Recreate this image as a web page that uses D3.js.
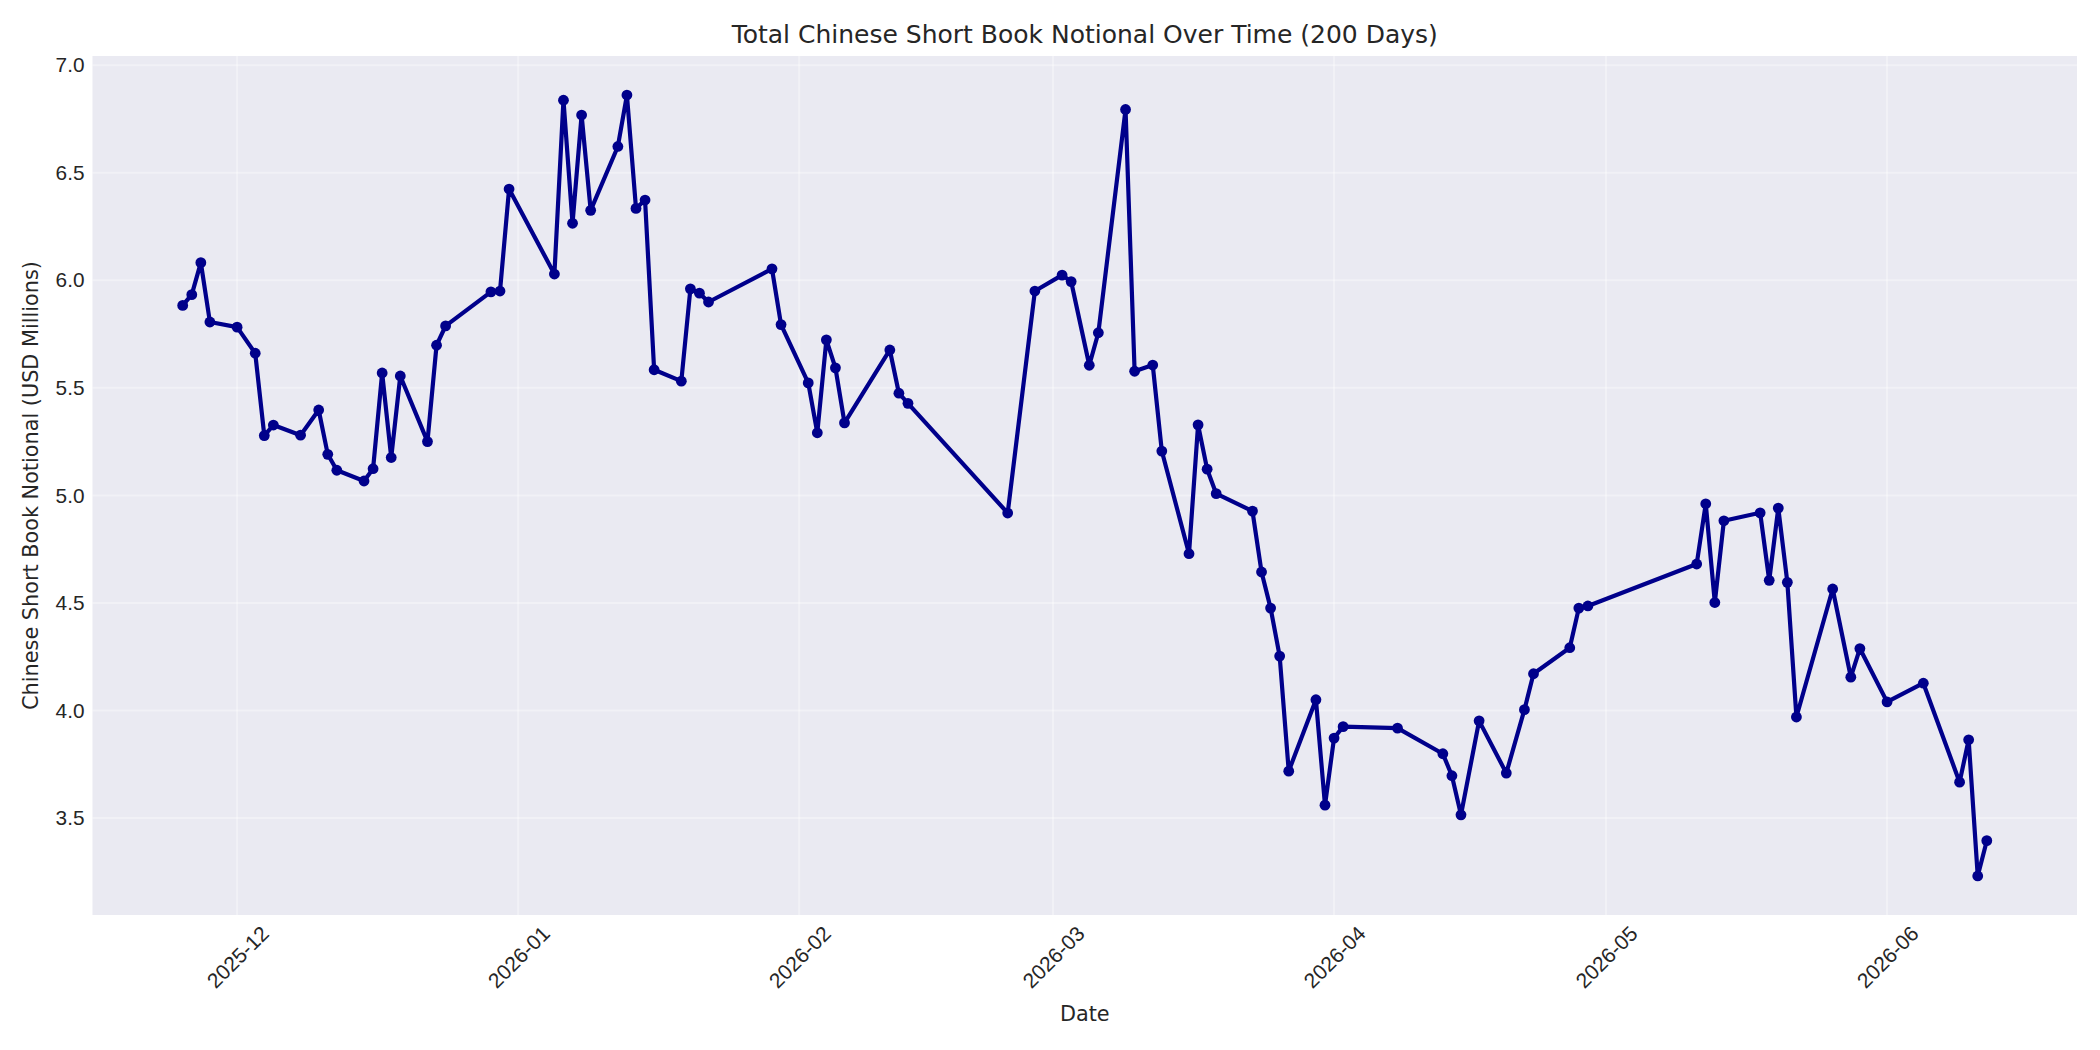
<!DOCTYPE html>
<html>
<head>
<meta charset="utf-8">
<script src="https://cdn.jsdelivr.net/npm/d3@7"></script>
<style>
  body { margin: 0; background: #ffffff; }
  svg { display: block; font-family: "DejaVu Sans", sans-serif; }
</style>
</head>
<body>
<svg id="notional_svg"></svg>
<script>
// Trading dates of the series (business days, some missing)
const dates = [
  "2025-11-25", "2025-11-26", "2025-11-27", "2025-11-28", "2025-12-01",
  "2025-12-03", "2025-12-04", "2025-12-05", "2025-12-08", "2025-12-10",
  "2025-12-11", "2025-12-12", "2025-12-15", "2025-12-16", "2025-12-17",
  "2025-12-18", "2025-12-19", "2025-12-22", "2025-12-23", "2025-12-24",
  "2025-12-29", "2025-12-30", "2025-12-31", "2026-01-05", "2026-01-06",
  "2026-01-07", "2026-01-08", "2026-01-09", "2026-01-12", "2026-01-13",
  "2026-01-14", "2026-01-15", "2026-01-16", "2026-01-19", "2026-01-20",
  "2026-01-21", "2026-01-22", "2026-01-29", "2026-01-30", "2026-02-02",
  "2026-02-03", "2026-02-04", "2026-02-05", "2026-02-06", "2026-02-11",
  "2026-02-12", "2026-02-13", "2026-02-24", "2026-02-27", "2026-03-02",
  "2026-03-03", "2026-03-05", "2026-03-06", "2026-03-09", "2026-03-10",
  "2026-03-12", "2026-03-13", "2026-03-16", "2026-03-17", "2026-03-18",
  "2026-03-19", "2026-03-23", "2026-03-24", "2026-03-25", "2026-03-26",
  "2026-03-27", "2026-03-30", "2026-03-31", "2026-04-01", "2026-04-02",
  "2026-04-08", "2026-04-13", "2026-04-14", "2026-04-15", "2026-04-17",
  "2026-04-20", "2026-04-22", "2026-04-23", "2026-04-27", "2026-04-28",
  "2026-04-29", "2026-05-11", "2026-05-12", "2026-05-13", "2026-05-14",
  "2026-05-18", "2026-05-19", "2026-05-20", "2026-05-21", "2026-05-22",
  "2026-05-26", "2026-05-28", "2026-05-29", "2026-06-01", "2026-06-05",
  "2026-06-09", "2026-06-10", "2026-06-11", "2026-06-12",
];

// Short book notional in USD millions, one value per date
const notional = [
  5.883, 5.933, 6.082, 5.806, 5.782,
  5.661, 5.278, 5.327, 5.280, 5.397,
  5.191, 5.117, 5.067, 5.124, 5.569,
  5.176, 5.555, 5.250, 5.698, 5.788,
  5.946, 5.950, 6.424, 6.029, 6.837,
  6.265, 6.768, 6.325, 6.622, 6.861,
  6.334, 6.373, 5.584, 5.531, 5.960,
  5.940, 5.899, 6.053, 5.794, 5.523,
  5.291, 5.723, 5.593, 5.337, 5.676,
  5.475, 5.428, 4.918, 5.950, 6.024,
  5.994, 5.605, 5.756, 6.794, 5.577,
  5.606, 5.206, 4.729, 5.328, 5.122,
  5.008, 4.927, 4.644, 4.476, 4.253,
  3.718, 4.050, 3.560, 3.872, 3.925,
  3.918, 3.799, 3.697, 3.515, 3.952,
  3.709, 4.004, 4.171, 4.292, 4.476,
  4.486, 4.681, 4.961, 4.502, 4.882,
  4.919, 4.605, 4.941, 4.596, 3.970,
  4.565, 4.155, 4.288, 4.040, 4.127,
  3.667, 3.864, 3.231, 3.395,
];

// Month ticks on the x axis and value ticks on the y axis
const monthTicks = [
  "2025-12-01", "2026-01-01", "2026-02-01", "2026-03-01",
  "2026-04-01", "2026-05-01", "2026-06-01",
];
const valueTicks = [3.5, 4.0, 4.5, 5.0, 5.5, 6.0, 6.5, 7.0];

const chartTitle = "Total Chinese Short Book Notional Over Time (200 Days)";
const xLabel = "Date";
const yLabel = "Chinese Short Book Notional (USD Millions)";

function drawNotionalChart() {
  const width = 2100;
  const height = 1050;
  const margin = { top: 56, right: 23, bottom: 135, left: 92.5 };
  const textColor = "#262626";

  const parseDate = d3.utcParse("%Y-%m-%d");
  const data = dates.map((d, i) => ({ date: parseDate(d), value: notional[i] }));

  const svg = d3
    .select("#notional_svg")
    .attr("width", width)
    .attr("height", height);

  svg.selectAll("*").remove();

  // Padding the domains by 5% on each side like matplotlib does
  const xExtent = d3.extent(data, (d) => d.date);
  const xPad = (xExtent[1] - xExtent[0]) * 0.05;
  const yExtent = d3.extent(data, (d) => d.value);
  const yPad = (yExtent[1] - yExtent[0]) * 0.05;

  const x = d3
    .scaleUtc()
    .domain([new Date(+xExtent[0] - xPad), new Date(+xExtent[1] + xPad)])
    .range([margin.left, width - margin.right]);

  const y = d3
    .scaleLinear()
    .domain([yExtent[0] - yPad, yExtent[1] + yPad])
    .range([height - margin.bottom, margin.top]);

  // Grey plot background
  svg
    .append("rect")
    .attr("x", margin.left)
    .attr("y", margin.top)
    .attr("width", width - margin.left - margin.right)
    .attr("height", height - margin.top - margin.bottom)
    .attr("fill", "#eaeaf2");

  const tickDates = monthTicks.map(parseDate);

  // Faint white grid lines
  svg
    .append("g")
    .selectAll("line")
    .data(tickDates)
    .enter()
    .append("line")
    .attr("x1", (d) => x(d))
    .attr("x2", (d) => x(d))
    .attr("y1", margin.top)
    .attr("y2", height - margin.bottom)
    .attr("stroke", "#ffffff")
    .attr("stroke-opacity", 0.35)
    .attr("stroke-width", 2);

  svg
    .append("g")
    .selectAll("line")
    .data(valueTicks)
    .enter()
    .append("line")
    .attr("x1", margin.left)
    .attr("x2", width - margin.right)
    .attr("y1", (d) => y(d))
    .attr("y2", (d) => y(d))
    .attr("stroke", "#ffffff")
    .attr("stroke-opacity", 0.35)
    .attr("stroke-width", 2);

  // X axis with rotated month labels
  const xAxis = svg
    .append("g")
    .attr("transform", "translate(0," + (height - margin.bottom) + ")")
    .call(
      d3
        .axisBottom(x)
        .tickValues(tickDates)
        .tickFormat(d3.utcFormat("%Y-%m"))
        .tickSize(0)
    );
  xAxis.select(".domain").remove();
  xAxis
    .selectAll("text")
    .attr("y", 0)
    .attr("dy", null)
    .attr("transform", "translate(0,42) rotate(-45)")
    .attr("text-anchor", "middle")
    .attr("dominant-baseline", "central")
    .attr("font-size", "21px")
    .attr("fill", textColor);

  // Y axis
  const yAxis = svg
    .append("g")
    .attr("transform", "translate(" + margin.left + ",0)")
    .call(
      d3
        .axisLeft(y)
        .tickValues(valueTicks)
        .tickFormat(d3.format(".1f"))
        .tickSize(0)
        .tickPadding(8)
    );
  yAxis.select(".domain").remove();
  yAxis
    .selectAll("text")
    .attr("font-size", "20.8px")
    .attr("fill", textColor);

  // Line and point markers
  const line = d3
    .line()
    .x((d) => x(d.date))
    .y((d) => y(d.value));

  svg
    .append("path")
    .datum(data)
    .attr("d", line)
    .attr("fill", "none")
    .attr("stroke", "#00008b")
    .attr("stroke-width", 4.2)
    .attr("stroke-linejoin", "round");

  svg
    .append("g")
    .selectAll("circle")
    .data(data)
    .enter()
    .append("circle")
    .attr("cx", (d) => x(d.date))
    .attr("cy", (d) => y(d.value))
    .attr("r", 5.4)
    .attr("fill", "#00008b");

  // Title and axis labels
  svg
    .append("text")
    .attr("x", (margin.left + width - margin.right) / 2)
    .attr("y", 43)
    .attr("text-anchor", "middle")
    .attr("font-size", "25px")
    .attr("fill", textColor)
    .text(chartTitle);

  svg
    .append("text")
    .attr("x", (margin.left + width - margin.right) / 2)
    .attr("y", 1021)
    .attr("text-anchor", "middle")
    .attr("font-size", "20.8px")
    .attr("fill", textColor)
    .text(xLabel);

  svg
    .append("text")
    .attr(
      "transform",
      "translate(38," + (margin.top + height - margin.bottom) / 2 + ") rotate(-90)"
    )
    .attr("text-anchor", "middle")
    .attr("font-size", "20.8px")
    .attr("fill", textColor)
    .text(yLabel);
}

drawNotionalChart();
</script>
</body>
</html>
